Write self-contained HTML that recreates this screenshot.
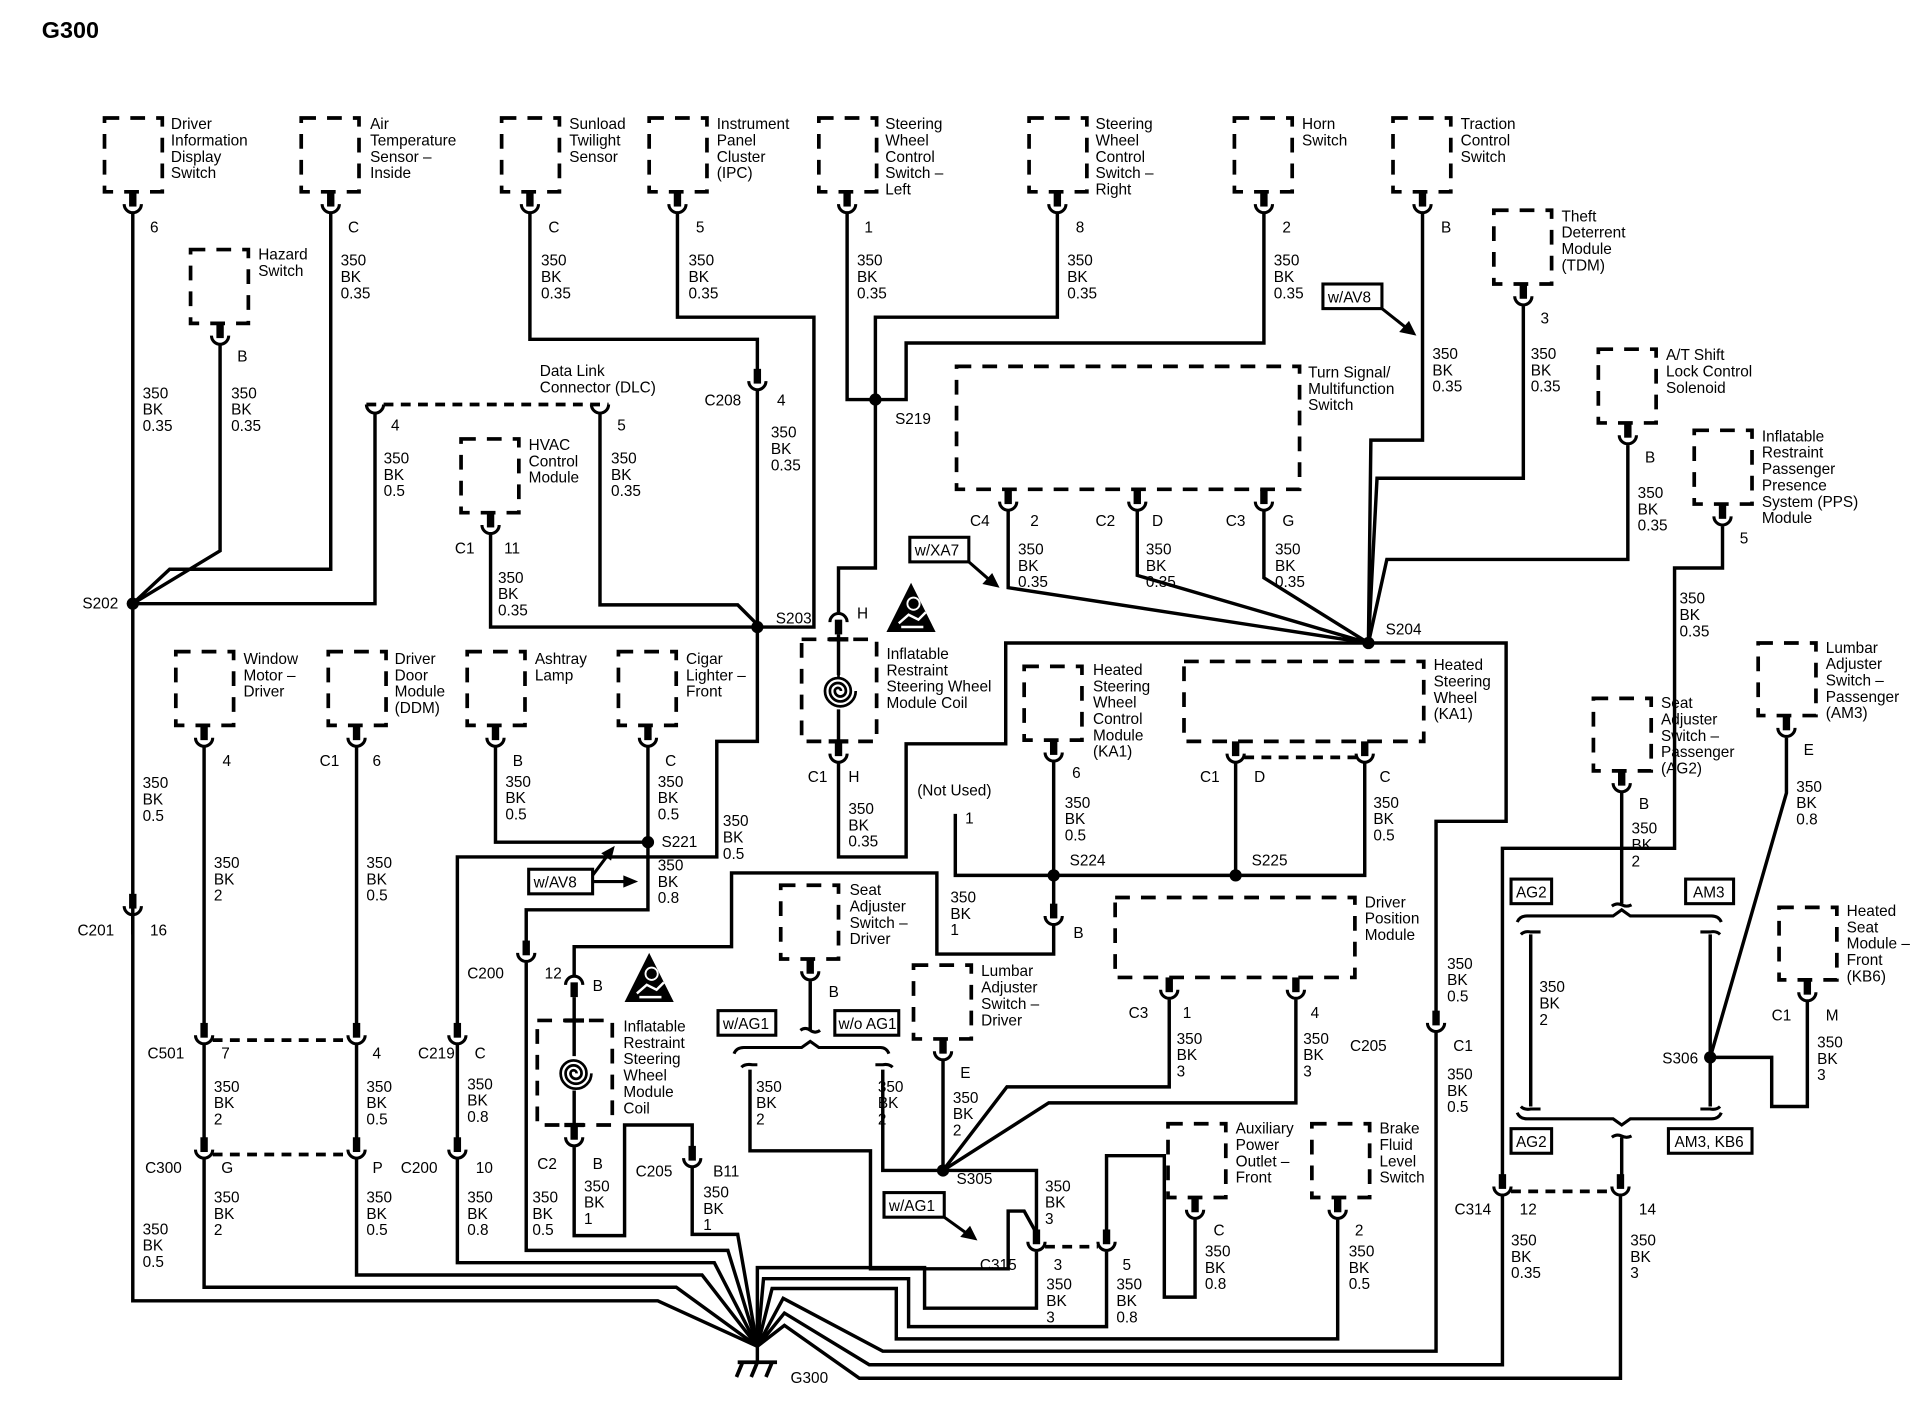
<!DOCTYPE html>
<html><head><meta charset="utf-8">
<style>
html,body{margin:0;padding:0;background:#fff;}
svg{display:block;}
text{font-family:"Liberation Sans",Arial,sans-serif;font-size:12.5px;fill:#000;}
.w{fill:none;stroke:#000;stroke-width:2.8;stroke-linejoin:miter;}
.d{fill:none;stroke:#000;stroke-width:3;stroke-dasharray:12 9;}
.dl{fill:none;stroke:#000;stroke-width:3;stroke-dasharray:8 6;}
.b{fill:none;stroke:#000;stroke-width:2.5;}
.c{fill:none;stroke:#000;stroke-width:2.2;}
</style></head><body>
<svg width="1918" height="1408" viewBox="0 0 1560 1145.2" preserveAspectRatio="none" xmlns="http://www.w3.org/2000/svg">
<defs>
<g id="k"><rect x="-3" y="0" width="6" height="12" fill="#000"/><path d="M-7,10 A7,7 0 0 0 7,10" fill="none" stroke="#000" stroke-width="2.5"/></g>
<g id="tri"><polygon points="20,0 40,40 0,40" fill="#000"/><circle cx="22" cy="17" r="5" fill="none" stroke="#fff" stroke-width="1.5"/><path d="M10,33 L18,26 L26,30 L32,24 M12,36 H30" stroke="#fff" stroke-width="2" fill="none"/></g>
</defs>

<text x="34" y="31" style="font-size:19px;font-weight:bold">G300</text>

<!-- boxes -->
<rect class="d" x="85" y="96" width="47" height="60"/>
<rect class="d" x="155" y="203" width="47" height="60"/>
<rect class="d" x="245" y="96" width="47" height="60"/>
<rect class="d" x="408" y="96" width="47" height="60"/>
<rect class="d" x="528" y="96" width="47" height="60"/>
<rect class="d" x="666" y="96" width="47" height="60"/>
<rect class="d" x="837" y="96" width="47" height="60"/>
<rect class="d" x="1004" y="96" width="47" height="60"/>
<rect class="d" x="1133" y="96" width="47" height="60"/>
<rect class="d" x="1215" y="171" width="47" height="60"/>
<rect class="d" x="778" y="298" width="279" height="100"/>
<rect class="d" x="1300" y="284" width="47" height="60"/>
<rect class="d" x="1378" y="350" width="47" height="60"/>
<rect class="d" x="375" y="357" width="47" height="60"/>
<rect class="d" x="143" y="530" width="47" height="60"/>
<rect class="d" x="267" y="530" width="47" height="60"/>
<rect class="d" x="380" y="530" width="47" height="60"/>
<rect class="d" x="503" y="530" width="47" height="60"/>
<rect class="d" x="652" y="520" width="61" height="83"/>
<rect class="d" x="833" y="542" width="47" height="60"/>
<rect class="d" x="963" y="538" width="195" height="65"/>
<rect class="d" x="1430" y="523" width="47" height="59"/>
<rect class="d" x="1296" y="568" width="47" height="59"/>
<rect class="d" x="635" y="720" width="47" height="60"/>
<rect class="d" x="907" y="730" width="195" height="65"/>
<rect class="d" x="743" y="785" width="47" height="60"/>
<rect class="d" x="1447" y="738" width="47" height="59"/>
<rect class="d" x="437" y="830" width="61" height="85"/>
<rect class="d" x="950" y="914" width="47" height="60"/>
<rect class="d" x="1067" y="914" width="47" height="60"/>

<!-- connectors -->
<use href="#k" x="108" y="156"/><use href="#k" x="179" y="263"/><use href="#k" x="269" y="156"/>
<use href="#k" x="431" y="156"/><use href="#k" x="551" y="156"/><use href="#k" x="689" y="156"/>
<use href="#k" x="860" y="156"/><use href="#k" x="1028" y="156"/><use href="#k" x="1157" y="156"/>
<use href="#k" x="1239" y="231"/><use href="#k" x="820" y="398"/><use href="#k" x="925" y="398"/>
<use href="#k" x="1028" y="398"/><use href="#k" x="1324" y="344"/><use href="#k" x="1401" y="410"/>
<use href="#k" x="399" y="417"/><use href="#k" x="616" y="300"/>
<use href="#k" x="166" y="590"/><use href="#k" x="290" y="590"/><use href="#k" x="403" y="590"/><use href="#k" x="527" y="590"/>
<use href="#k" x="108" y="727"/>
<use href="#k" x="166" y="832"/><use href="#k" x="290" y="832"/><use href="#k" x="166" y="925"/><use href="#k" x="290" y="925"/>
<use href="#k" x="372" y="832"/><use href="#k" x="372" y="925"/><use href="#k" x="428" y="765"/>
<use href="#k" x="682" y="603"/><use href="#k" x="857" y="602"/><use href="#k" x="1005" y="603"/><use href="#k" x="1110" y="603"/>
<use href="#k" x="857" y="735"/><use href="#k" x="1453" y="582"/><use href="#k" x="1319" y="627"/>
<use href="#k" x="659" y="780"/><use href="#k" x="951" y="795"/><use href="#k" x="1054" y="795"/><use href="#k" x="767" y="845"/>
<use href="#k" x="1168" y="822"/><use href="#k" x="1470" y="797"/><use href="#k" x="467" y="915"/><use href="#k" x="563" y="932"/>
<use href="#k" x="843" y="1000"/><use href="#k" x="900" y="1000"/><use href="#k" x="972" y="974"/><use href="#k" x="1088" y="974"/>
<use href="#k" x="1222" y="955"/><use href="#k" x="1318" y="955"/>
<use href="#k" transform="translate(682,516) rotate(180)"/>
<use href="#k" transform="translate(467,811) rotate(180)"/>

<!-- DLC -->
<path class="dl" d="M298,329 H495"/>
<path class="b" d="M298,329 A7,7 0 0 0 312,329 M481,329 A7,7 0 0 0 495,329"/>
<!-- dashed between connectors -->
<path class="dl" d="M173,846 H283 M173,939 H283 M850,1014 H893 M1229,969 H1311 M1012,616 H1103"/>

<!-- wires -->
<g class="w">
<path d="M108,174 V1058 H535 L616,1095"/>
<path d="M179,281 V448 L108,491"/>
<path d="M269,174 V463 H138 L108,491"/>
<path d="M108,491 H305 V337"/>
<path d="M431,174 V276 H616 V302"/>
<path d="M616,318 V603 H583 V697 H372 V834"/>
<path d="M551,174 V258 H662 V510 H616"/>
<path d="M488,337 V492 H600 L616,508"/>
<path d="M399,435 V510 H616"/>
<path d="M689,174 V325 H737 V279 H1028 V174"/>
<path d="M860,174 V258 H712 V462 H682 V498"/>
<path d="M1157,174 V358 H1115 L1113,523"/>
<path d="M1239,249 V389 H1120 L1113,523"/>
<path d="M1324,362 V455 H1128 L1113,523"/>
<path d="M820,416 V478 L1113,523 M925,416 V468 L1113,523 M1028,416 V470 L1113,523"/>
<path d="M1401,428 V462 H1362 V690 H1222 V957"/>
<path d="M1222,973 V1110 H707 L638,1068 L616,1095"/>
<path d="M1453,600 V645 L1391,860"/>
<path d="M1319,645 V735"/>
<path d="M1245,760 V900 M1391,760 V900"/>
<path d="M1391,860 H1441 V900 H1470 V815"/>
<path d="M1319,925 V957 M1318,973 V1121 H699 L638,1078 L616,1095"/>
<path d="M166,608 V834 M166,850 V927 M166,943 V1047 H550 L616,1095"/>
<path d="M290,608 V834 M290,850 V927 M290,943 V1037 H571 L616,1095"/>
<path d="M403,608 V685 H527"/>
<path d="M527,608 V740 H428 V767 M428,783 V1017 H592 L616,1095"/>
<path d="M372,850 V927 M372,943 V1027 H581 L616,1095"/>
<path d="M108,745 V760"/>
<path d="M682,516 V549 M682,577 V605 M682,621 V697 H737 V605 H818 V523 H1225 V668 H1168 V824"/>
<path d="M1168,840 V1099 H718 L637,1056 L616,1095"/>
<path d="M857,620 V737 M857,753 V776 H762 V710 H595 V770 H467 V793"/>
<path d="M467,811 V859 M467,887 V917 M467,933 V1005 H508 V915 H563 V934 M563,950 V1004 H600 L616,1095"/>
<path d="M777,662 V712 H1110 V621 M1005,621 V712"/>
<path d="M951,813 V884 H819 L767,952 M1054,813 V897 H853 L767,952"/>
<path d="M767,863 V952"/>
<path d="M659,798 V838"/>
<path d="M610,870 V936 H708 V1032 H820 V985 H833 L843,1003"/>
<path d="M718,870 V952 H843 V1002 M843,1018 V1064 H752 V1031 H616 V1095"/>
<path d="M972,992 V1055 H947 V940 H900 V1002 M900,1018 V1079 H739 V1040 H621 L616,1095"/>
<path d="M1088,992 V1089 H729 V1048 H628 L616,1095"/>
<path d="M616,1095 V1108"/>
</g>
<!-- crossbars on coils -->
<path d="M674,520 H690 M674,603 H690 M459,830 H475 M459,915 H475" stroke="#000" stroke-width="3.5"/>
<!-- spirals -->
<path class="c" d="M682,549 V551 M684,562 A2.5,2.5 0 0 0 679,562 A4.5,4.5 0 0 0 688,562 A6.5,6.5 0 0 0 675,562 A8.5,8.5 0 0 0 692,562 A10.5,10.5 0 0 0 671,562 A12.5,12.5 0 0 0 696,562 M682,549 A13,13 0 0 1 682,549"/>
<path class="c" d="M469,873 A2.5,2.5 0 0 0 464,873 A4.5,4.5 0 0 0 473,873 A6.5,6.5 0 0 0 460,873 A8.5,8.5 0 0 0 477,873 A10.5,10.5 0 0 0 456,873 A12.5,12.5 0 0 0 481,873"/>
<!-- ground -->
<path d="M600,1108 H632 M604,1108 L599,1120 M616,1108 L611,1120 M628,1108 L623,1120" stroke="#000" stroke-width="3" fill="none"/>
<!-- braces -->
<g class="b">
<path d="M651,838 Q655,835 659,838 Q663,841 667,838"/>
<path d="M597,857 Q599,852 605,852 H652 L659,847 L666,852 H716 Q721,852 723,857"/>
<path d="M603,868 Q606,865 612,866 H616 M712,866 H718 Q723,865 726,868"/>
<path d="M1234,750 Q1236,745 1242,745 H1312 L1319,740 L1326,745 H1392 Q1398,745 1400,750"/>
<path d="M1237,760 Q1240,757 1245,758 H1253 M1383,758 H1391 Q1396,757 1399,760"/>
<path d="M1237,900 Q1240,903 1245,902 H1253 M1383,902 H1391 Q1396,903 1399,900"/>
<path d="M1234,905 Q1236,910 1242,910 H1312 L1319,915 L1326,910 H1392 Q1398,910 1400,905"/>
<path d="M1311,737 Q1315,734 1319,736 Q1323,738 1327,736 M1311,925 Q1315,922 1319,924 Q1323,926 1327,924"/>
</g>
<!-- splice dots -->
<g fill="#000">
<circle cx="108" cy="491" r="5"/><circle cx="616" cy="510" r="5"/><circle cx="712" cy="325" r="5"/>
<circle cx="1113" cy="523" r="5"/><circle cx="527" cy="685" r="5"/><circle cx="857" cy="712" r="5"/>
<circle cx="1005" cy="712" r="5"/><circle cx="767" cy="952" r="5"/><circle cx="1391" cy="860" r="5"/>
</g>
<!-- option boxes -->
<g class="b">
<rect x="1076" y="231" width="48" height="20"/><rect x="740" y="437" width="48" height="20"/>
<rect x="430" y="707" width="52" height="20"/><rect x="584" y="822" width="47" height="20"/>
<rect x="679" y="822" width="52" height="20"/><rect x="719" y="970" width="49" height="20"/>
<rect x="1229" y="715" width="33" height="20"/><rect x="1371" y="715" width="39" height="20"/>
<rect x="1229" y="918" width="33" height="20"/><rect x="1357" y="918" width="68" height="20"/>
<path d="M1124,251 L1143,266 M788,457 L804,471 M482,717 L508,717 M482,712 L494,696 M768,990 L786,1003"/>
</g>
<g fill="#000">
<polygon points="1152,273 1138,270 1146,261"/><polygon points="813,478 799,475 807,466"/>
<polygon points="519,717 507,712 507,722"/><polygon points="500,688 489,694 497,700"/>
<polygon points="795,1009 781,1006 789,997"/>
</g>
<text x="1080" y="246">w/AV8</text><text x="744" y="452">w/XA7</text><text x="434" y="722">w/AV8</text>
<text x="588" y="837">w/AG1</text><text x="682" y="837">w/o AG1</text><text x="723" y="985">w/AG1</text>
<text x="1233" y="730">AG2</text><text x="1377" y="730">AM3</text><text x="1233" y="933">AG2</text><text x="1362" y="933">AM3, KB6</text>
<use href="#tri" x="721" y="474"/><use href="#tri" x="508" y="775"/>

<!-- component labels -->
<g>
<text x="139" y="105"><tspan x="139">Driver</tspan><tspan x="139" dy="13.3">Information</tspan><tspan x="139" dy="13.3">Display</tspan><tspan x="139" dy="13.3">Switch</tspan></text>
<text x="210" y="211"><tspan x="210">Hazard</tspan><tspan x="210" dy="13.3">Switch</tspan></text>
<text x="301" y="105"><tspan x="301">Air</tspan><tspan x="301" dy="13.3">Temperature</tspan><tspan x="301" dy="13.3">Sensor –</tspan><tspan x="301" dy="13.3">Inside</tspan></text>
<text x="463" y="105"><tspan x="463">Sunload</tspan><tspan x="463" dy="13.3">Twilight</tspan><tspan x="463" dy="13.3">Sensor</tspan></text>
<text x="583" y="105"><tspan x="583">Instrument</tspan><tspan x="583" dy="13.3">Panel</tspan><tspan x="583" dy="13.3">Cluster</tspan><tspan x="583" dy="13.3">(IPC)</tspan></text>
<text x="720" y="105"><tspan x="720">Steering</tspan><tspan x="720" dy="13.3">Wheel</tspan><tspan x="720" dy="13.3">Control</tspan><tspan x="720" dy="13.3">Switch –</tspan><tspan x="720" dy="13.3">Left</tspan></text>
<text x="891" y="105"><tspan x="891">Steering</tspan><tspan x="891" dy="13.3">Wheel</tspan><tspan x="891" dy="13.3">Control</tspan><tspan x="891" dy="13.3">Switch –</tspan><tspan x="891" dy="13.3">Right</tspan></text>
<text x="1059" y="105"><tspan x="1059">Horn</tspan><tspan x="1059" dy="13.3">Switch</tspan></text>
<text x="1188" y="105"><tspan x="1188">Traction</tspan><tspan x="1188" dy="13.3">Control</tspan><tspan x="1188" dy="13.3">Switch</tspan></text>
<text x="1270" y="180"><tspan x="1270">Theft</tspan><tspan x="1270" dy="13.3">Deterrent</tspan><tspan x="1270" dy="13.3">Module</tspan><tspan x="1270" dy="13.3">(TDM)</tspan></text>
<text x="1064" y="307"><tspan x="1064">Turn Signal/</tspan><tspan x="1064" dy="13.3">Multifunction</tspan><tspan x="1064" dy="13.3">Switch</tspan></text>
<text x="1355" y="293"><tspan x="1355">A/T Shift</tspan><tspan x="1355" dy="13.3">Lock Control</tspan><tspan x="1355" dy="13.3">Solenoid</tspan></text>
<text x="1433" y="359"><tspan x="1433">Inflatable</tspan><tspan x="1433" dy="13.3">Restraint</tspan><tspan x="1433" dy="13.3">Passenger</tspan><tspan x="1433" dy="13.3">Presence</tspan><tspan x="1433" dy="13.3">System (PPS)</tspan><tspan x="1433" dy="13.3">Module</tspan></text>
<text x="439" y="306"><tspan x="439">Data Link</tspan><tspan x="439" dy="13.3">Connector (DLC)</tspan></text>
<text x="430" y="366"><tspan x="430">HVAC</tspan><tspan x="430" dy="13.3">Control</tspan><tspan x="430" dy="13.3">Module</tspan></text>
<text x="198" y="540"><tspan x="198">Window</tspan><tspan x="198" dy="13.3">Motor –</tspan><tspan x="198" dy="13.3">Driver</tspan></text>
<text x="321" y="540"><tspan x="321">Driver</tspan><tspan x="321" dy="13.3">Door</tspan><tspan x="321" dy="13.3">Module</tspan><tspan x="321" dy="13.3">(DDM)</tspan></text>
<text x="435" y="540"><tspan x="435">Ashtray</tspan><tspan x="435" dy="13.3">Lamp</tspan></text>
<text x="558" y="540"><tspan x="558">Cigar</tspan><tspan x="558" dy="13.3">Lighter –</tspan><tspan x="558" dy="13.3">Front</tspan></text>
<text x="721" y="536"><tspan x="721">Inflatable</tspan><tspan x="721" dy="13.3">Restraint</tspan><tspan x="721" dy="13.3">Steering Wheel</tspan><tspan x="721" dy="13.3">Module Coil</tspan></text>
<text x="889" y="549"><tspan x="889">Heated</tspan><tspan x="889" dy="13.3">Steering</tspan><tspan x="889" dy="13.3">Wheel</tspan><tspan x="889" dy="13.3">Control</tspan><tspan x="889" dy="13.3">Module</tspan><tspan x="889" dy="13.3">(KA1)</tspan></text>
<text x="1166" y="545"><tspan x="1166">Heated</tspan><tspan x="1166" dy="13.3">Steering</tspan><tspan x="1166" dy="13.3">Wheel</tspan><tspan x="1166" dy="13.3">(KA1)</tspan></text>
<text x="1485" y="531"><tspan x="1485">Lumbar</tspan><tspan x="1485" dy="13.3">Adjuster</tspan><tspan x="1485" dy="13.3">Switch –</tspan><tspan x="1485" dy="13.3">Passenger</tspan><tspan x="1485" dy="13.3">(AM3)</tspan></text>
<text x="1351" y="576"><tspan x="1351">Seat</tspan><tspan x="1351" dy="13.3">Adjuster</tspan><tspan x="1351" dy="13.3">Switch –</tspan><tspan x="1351" dy="13.3">Passenger</tspan><tspan x="1351" dy="13.3">(AG2)</tspan></text>
<text x="691" y="728"><tspan x="691">Seat</tspan><tspan x="691" dy="13.3">Adjuster</tspan><tspan x="691" dy="13.3">Switch –</tspan><tspan x="691" dy="13.3">Driver</tspan></text>
<text x="1110" y="738"><tspan x="1110">Driver</tspan><tspan x="1110" dy="13.3">Position</tspan><tspan x="1110" dy="13.3">Module</tspan></text>
<text x="798" y="794"><tspan x="798">Lumbar</tspan><tspan x="798" dy="13.3">Adjuster</tspan><tspan x="798" dy="13.3">Switch –</tspan><tspan x="798" dy="13.3">Driver</tspan></text>
<text x="1502" y="745"><tspan x="1502">Heated</tspan><tspan x="1502" dy="13.3">Seat</tspan><tspan x="1502" dy="13.3">Module –</tspan><tspan x="1502" dy="13.3">Front</tspan><tspan x="1502" dy="13.3">(KB6)</tspan></text>
<text x="507" y="839"><tspan x="507">Inflatable</tspan><tspan x="507" dy="13.3">Restraint</tspan><tspan x="507" dy="13.3">Steering</tspan><tspan x="507" dy="13.3">Wheel</tspan><tspan x="507" dy="13.3">Module</tspan><tspan x="507" dy="13.3">Coil</tspan></text>
<text x="1005" y="922"><tspan x="1005">Auxiliary</tspan><tspan x="1005" dy="13.3">Power</tspan><tspan x="1005" dy="13.3">Outlet –</tspan><tspan x="1005" dy="13.3">Front</tspan></text>
<text x="1122" y="922"><tspan x="1122">Brake</tspan><tspan x="1122" dy="13.3">Fluid</tspan><tspan x="1122" dy="13.3">Level</tspan><tspan x="1122" dy="13.3">Switch</tspan></text>
<text x="746" y="647">(Not Used)</text>
<text x="1098" y="660"></text>
</g>

<!-- pins and connector names -->
<g>
<text x="122" y="189">6</text><text x="193" y="294">B</text><text x="283" y="189">C</text><text x="446" y="189">C</text>
<text x="566" y="189">5</text><text x="703" y="189">1</text><text x="875" y="189">8</text><text x="1043" y="189">2</text>
<text x="1172" y="189">B</text><text x="1253" y="263">3</text><text x="1338" y="376">B</text><text x="1415" y="442">5</text>
<text x="318" y="350">4</text><text x="502" y="350">5</text><text x="573" y="330">C208</text><text x="632" y="330">4</text>
<text x="370" y="450">C1</text><text x="410" y="450">11</text>
<text x="789" y="428">C4</text><text x="838" y="428">2</text><text x="891" y="428">C2</text><text x="937" y="428">D</text>
<text x="997" y="428">C3</text><text x="1043" y="428">G</text>
<text x="67" y="495">S202</text><text x="631" y="507">S203</text><text x="728" y="345">S219</text><text x="1127" y="516">S204</text>
<text x="181" y="623">4</text><text x="260" y="623">C1</text><text x="303" y="623">6</text><text x="417" y="623">B</text><text x="541" y="623">C</text>
<text x="538" y="689">S221</text>
<text x="697" y="503">H</text><text x="657" y="636">C1</text><text x="690" y="636">H</text>
<text x="872" y="633">6</text><text x="976" y="636">C1</text><text x="1020" y="636">D</text><text x="1122" y="636">C</text>
<text x="785" y="670">1</text><text x="870" y="704">S224</text><text x="1018" y="704">S225</text>
<text x="1467" y="614">E</text><text x="1333" y="658">B</text>
<text x="63" y="761">C201</text><text x="122" y="761">16</text>
<text x="380" y="796">C200</text><text x="443" y="796">12</text>
<text x="873" y="763">B</text><text x="674" y="811">B</text><text x="482" y="806">B</text>
<text x="918" y="828">C3</text><text x="962" y="828">1</text><text x="1066" y="828">4</text>
<text x="1441" y="830">C1</text><text x="1485" y="830">M</text>
<text x="1098" y="855">C205</text><text x="1182" y="855">C1</text>
<text x="120" y="861">C501</text><text x="180" y="861">7</text><text x="303" y="861">4</text>
<text x="340" y="861">C219</text><text x="386" y="861">C</text>
<text x="1352" y="865">S306</text><text x="781" y="877">E</text>
<text x="437" y="951">C2</text><text x="482" y="951">B</text>
<text x="118" y="954">C300</text><text x="180" y="954">G</text><text x="303" y="954">P</text>
<text x="326" y="954">C200</text><text x="387" y="954">10</text>
<text x="517" y="957">C205</text><text x="580" y="957">B11</text>
<text x="778" y="963">S305</text>
<text x="1183" y="988">C314</text><text x="1236" y="988">12</text><text x="1333" y="988">14</text>
<text x="987" y="1005">C</text><text x="1102" y="1005">2</text>
<text x="797" y="1033">C315</text><text x="857" y="1033">3</text><text x="913" y="1033">5</text>
<text x="643" y="1125">G300</text>
</g>

<!-- wire labels -->
<g>
<text y="216"><tspan x="277">350</tspan><tspan x="277" dy="13.3">BK</tspan><tspan x="277" dy="13.3">0.35</tspan></text>
<text y="216"><tspan x="440">350</tspan><tspan x="440" dy="13.3">BK</tspan><tspan x="440" dy="13.3">0.35</tspan></text>
<text y="216"><tspan x="560">350</tspan><tspan x="560" dy="13.3">BK</tspan><tspan x="560" dy="13.3">0.35</tspan></text>
<text y="216"><tspan x="697">350</tspan><tspan x="697" dy="13.3">BK</tspan><tspan x="697" dy="13.3">0.35</tspan></text>
<text y="216"><tspan x="868">350</tspan><tspan x="868" dy="13.3">BK</tspan><tspan x="868" dy="13.3">0.35</tspan></text>
<text y="216"><tspan x="1036">350</tspan><tspan x="1036" dy="13.3">BK</tspan><tspan x="1036" dy="13.3">0.35</tspan></text>
<text y="292"><tspan x="1165">350</tspan><tspan x="1165" dy="13.3">BK</tspan><tspan x="1165" dy="13.3">0.35</tspan></text>
<text y="292"><tspan x="1245">350</tspan><tspan x="1245" dy="13.3">BK</tspan><tspan x="1245" dy="13.3">0.35</tspan></text>
<text y="324"><tspan x="116">350</tspan><tspan x="116" dy="13.3">BK</tspan><tspan x="116" dy="13.3">0.35</tspan></text>
<text y="324"><tspan x="188">350</tspan><tspan x="188" dy="13.3">BK</tspan><tspan x="188" dy="13.3">0.35</tspan></text>
<text y="356"><tspan x="627">350</tspan><tspan x="627" dy="13.3">BK</tspan><tspan x="627" dy="13.3">0.35</tspan></text>
<text y="377"><tspan x="312">350</tspan><tspan x="312" dy="13.3">BK</tspan><tspan x="312" dy="13.3">0.5</tspan></text>
<text y="377"><tspan x="497">350</tspan><tspan x="497" dy="13.3">BK</tspan><tspan x="497" dy="13.3">0.35</tspan></text>
<text y="405"><tspan x="1332">350</tspan><tspan x="1332" dy="13.3">BK</tspan><tspan x="1332" dy="13.3">0.35</tspan></text>
<text y="451"><tspan x="828">350</tspan><tspan x="828" dy="13.3">BK</tspan><tspan x="828" dy="13.3">0.35</tspan></text>
<text y="451"><tspan x="932">350</tspan><tspan x="932" dy="13.3">BK</tspan><tspan x="932" dy="13.3">0.35</tspan></text>
<text y="451"><tspan x="1037">350</tspan><tspan x="1037" dy="13.3">BK</tspan><tspan x="1037" dy="13.3">0.35</tspan></text>
<text y="474"><tspan x="405">350</tspan><tspan x="405" dy="13.3">BK</tspan><tspan x="405" dy="13.3">0.35</tspan></text>
<text y="491"><tspan x="1366">350</tspan><tspan x="1366" dy="13.3">BK</tspan><tspan x="1366" dy="13.3">0.35</tspan></text>
<text y="641"><tspan x="116">350</tspan><tspan x="116" dy="13.3">BK</tspan><tspan x="116" dy="13.3">0.5</tspan></text>
<text y="640"><tspan x="411">350</tspan><tspan x="411" dy="13.3">BK</tspan><tspan x="411" dy="13.3">0.5</tspan></text>
<text y="640"><tspan x="535">350</tspan><tspan x="535" dy="13.3">BK</tspan><tspan x="535" dy="13.3">0.5</tspan></text>
<text y="644"><tspan x="1461">350</tspan><tspan x="1461" dy="13.3">BK</tspan><tspan x="1461" dy="13.3">0.8</tspan></text>
<text y="657"><tspan x="866">350</tspan><tspan x="866" dy="13.3">BK</tspan><tspan x="866" dy="13.3">0.5</tspan></text>
<text y="657"><tspan x="1117">350</tspan><tspan x="1117" dy="13.3">BK</tspan><tspan x="1117" dy="13.3">0.5</tspan></text>
<text y="662"><tspan x="690">350</tspan><tspan x="690" dy="13.3">BK</tspan><tspan x="690" dy="13.3">0.35</tspan></text>
<text y="672"><tspan x="588">350</tspan><tspan x="588" dy="13.3">BK</tspan><tspan x="588" dy="13.3">0.5</tspan></text>
<text y="678"><tspan x="1327">350</tspan><tspan x="1327" dy="13.3">BK</tspan><tspan x="1327" dy="13.3">2</tspan></text>
<text y="706"><tspan x="174">350</tspan><tspan x="174" dy="13.3">BK</tspan><tspan x="174" dy="13.3">2</tspan></text>
<text y="706"><tspan x="298">350</tspan><tspan x="298" dy="13.3">BK</tspan><tspan x="298" dy="13.3">0.5</tspan></text>
<text y="708"><tspan x="535">350</tspan><tspan x="535" dy="13.3">BK</tspan><tspan x="535" dy="13.3">0.8</tspan></text>
<text y="734"><tspan x="773">350</tspan><tspan x="773" dy="13.3">BK</tspan><tspan x="773" dy="13.3">1</tspan></text>
<text y="788"><tspan x="1177">350</tspan><tspan x="1177" dy="13.3">BK</tspan><tspan x="1177" dy="13.3">0.5</tspan></text>
<text y="807"><tspan x="1252">350</tspan><tspan x="1252" dy="13.3">BK</tspan><tspan x="1252" dy="13.3">2</tspan></text>
<text y="849"><tspan x="957">350</tspan><tspan x="957" dy="13.3">BK</tspan><tspan x="957" dy="13.3">3</tspan></text>
<text y="849"><tspan x="1060">350</tspan><tspan x="1060" dy="13.3">BK</tspan><tspan x="1060" dy="13.3">3</tspan></text>
<text y="852"><tspan x="1478">350</tspan><tspan x="1478" dy="13.3">BK</tspan><tspan x="1478" dy="13.3">3</tspan></text>
<text y="878"><tspan x="1177">350</tspan><tspan x="1177" dy="13.3">BK</tspan><tspan x="1177" dy="13.3">0.5</tspan></text>
<text y="888"><tspan x="174">350</tspan><tspan x="174" dy="13.3">BK</tspan><tspan x="174" dy="13.3">2</tspan></text>
<text y="888"><tspan x="298">350</tspan><tspan x="298" dy="13.3">BK</tspan><tspan x="298" dy="13.3">0.5</tspan></text>
<text y="886"><tspan x="380">350</tspan><tspan x="380" dy="13.3">BK</tspan><tspan x="380" dy="13.3">0.8</tspan></text>
<text y="888"><tspan x="615">350</tspan><tspan x="615" dy="13.3">BK</tspan><tspan x="615" dy="13.3">2</tspan></text>
<text y="888"><tspan x="714">350</tspan><tspan x="714" dy="13.3">BK</tspan><tspan x="714" dy="13.3">2</tspan></text>
<text y="897"><tspan x="775">350</tspan><tspan x="775" dy="13.3">BK</tspan><tspan x="775" dy="13.3">2</tspan></text>
<text y="969"><tspan x="850">350</tspan><tspan x="850" dy="13.3">BK</tspan><tspan x="850" dy="13.3">3</tspan></text>
<text y="969"><tspan x="475">350</tspan><tspan x="475" dy="13.3">BK</tspan><tspan x="475" dy="13.3">1</tspan></text>
<text y="974"><tspan x="572">350</tspan><tspan x="572" dy="13.3">BK</tspan><tspan x="572" dy="13.3">1</tspan></text>
<text y="978"><tspan x="174">350</tspan><tspan x="174" dy="13.3">BK</tspan><tspan x="174" dy="13.3">2</tspan></text>
<text y="978"><tspan x="298">350</tspan><tspan x="298" dy="13.3">BK</tspan><tspan x="298" dy="13.3">0.5</tspan></text>
<text y="978"><tspan x="380">350</tspan><tspan x="380" dy="13.3">BK</tspan><tspan x="380" dy="13.3">0.8</tspan></text>
<text y="978"><tspan x="433">350</tspan><tspan x="433" dy="13.3">BK</tspan><tspan x="433" dy="13.3">0.5</tspan></text>
<text y="1004"><tspan x="116">350</tspan><tspan x="116" dy="13.3">BK</tspan><tspan x="116" dy="13.3">0.5</tspan></text>
<text y="1022"><tspan x="980">350</tspan><tspan x="980" dy="13.3">BK</tspan><tspan x="980" dy="13.3">0.8</tspan></text>
<text y="1022"><tspan x="1097">350</tspan><tspan x="1097" dy="13.3">BK</tspan><tspan x="1097" dy="13.3">0.5</tspan></text>
<text y="1013"><tspan x="1229">350</tspan><tspan x="1229" dy="13.3">BK</tspan><tspan x="1229" dy="13.3">0.35</tspan></text>
<text y="1013"><tspan x="1326">350</tspan><tspan x="1326" dy="13.3">BK</tspan><tspan x="1326" dy="13.3">3</tspan></text>
<text y="1049"><tspan x="851">350</tspan><tspan x="851" dy="13.3">BK</tspan><tspan x="851" dy="13.3">3</tspan></text>
<text y="1049"><tspan x="908">350</tspan><tspan x="908" dy="13.3">BK</tspan><tspan x="908" dy="13.3">0.8</tspan></text>
</g>
</svg>
</body></html>
